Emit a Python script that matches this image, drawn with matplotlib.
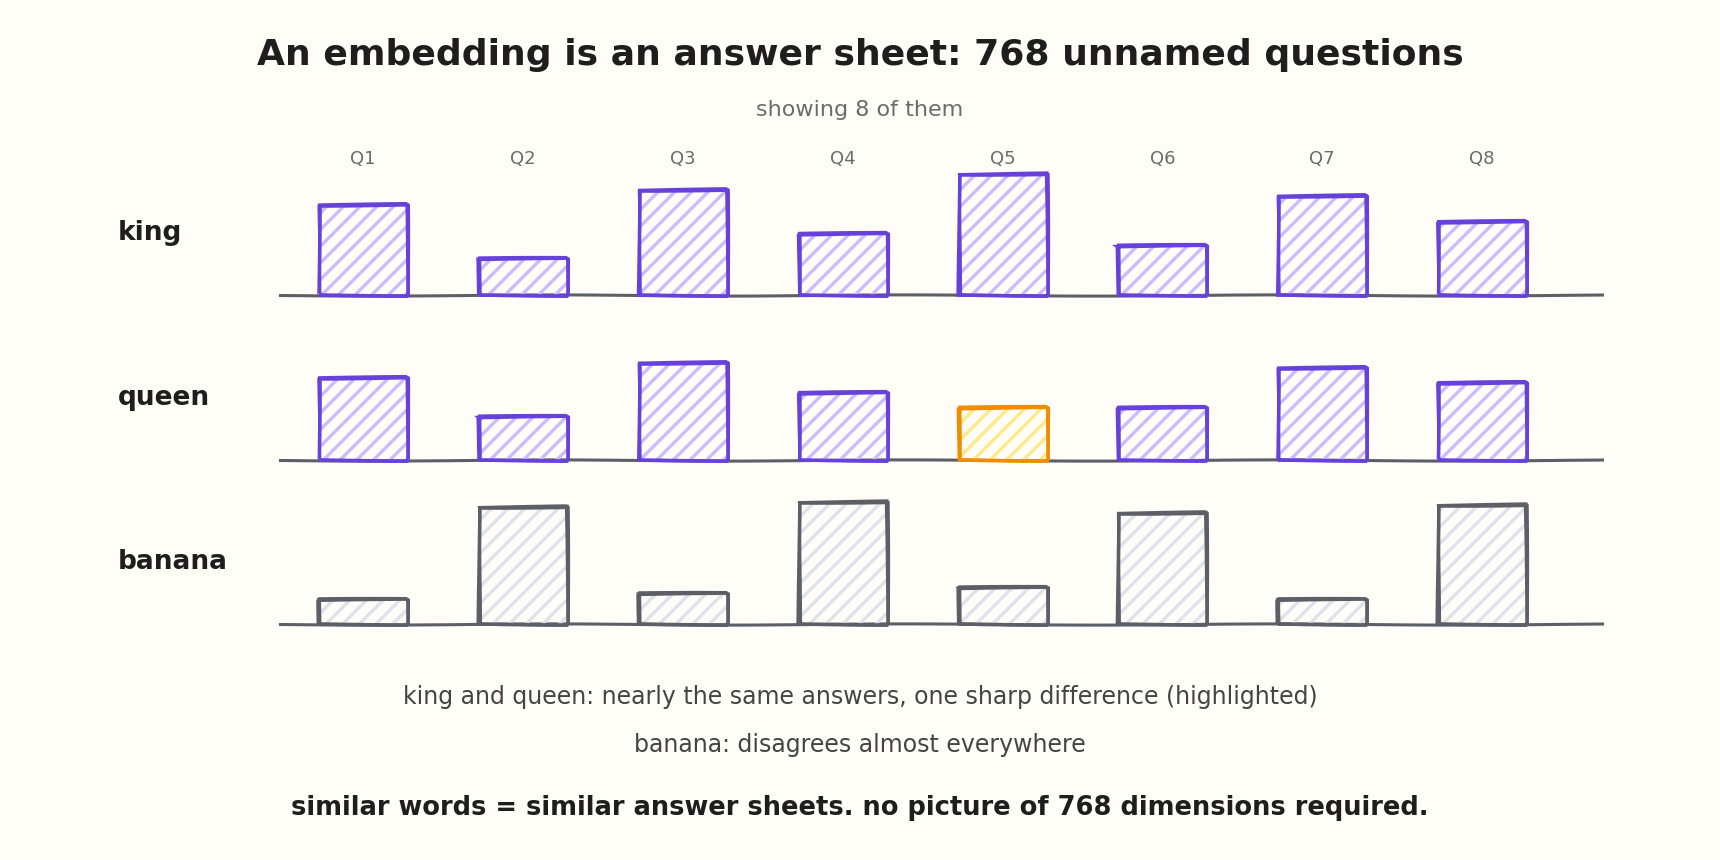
import matplotlib

matplotlib.use("Agg")
import matplotlib.pyplot as plt

plt.rcParams["font.family"] = ["DejaVu Sans"]
plt.rcParams["hatch.linewidth"] = 2.4

questions = ["Q1", "Q2", "Q3", "Q4", "Q5", "Q6", "Q7", "Q8"]
words = ["king", "queen", "banana"]
king = [0.72, 0.29, 0.84, 0.49, 0.97, 0.39, 0.79, 0.58]
queen = [0.66, 0.34, 0.78, 0.54, 0.42, 0.42, 0.74, 0.62]
banana = [0.19, 0.94, 0.24, 0.98, 0.29, 0.89, 0.19, 0.95]
highlight = ("queen", 4)  # the one sharp difference

title = "An embedding is an answer sheet: 768 unnamed questions"
subtitle = "showing 8 of them"
note1 = "king and queen: nearly the same answers, one sharp difference (highlighted)"
note2 = "banana: disagrees almost everywhere"
footer = "similar words = similar answer sheets. no picture of 768 dimensions required."

BG = "#fffdf7"
PURPLE, PURPLE_FILL = "#6741d9", "#cdbbff"
ORANGE, ORANGE_FILL = "#f08c00", "#ffe98a"
GRAY, GRAY_FILL = "#5c5f66", "#dde3ea"
AXIS = "#5c5f66"

fig = plt.figure(figsize=(17.2, 8.6), dpi=100, facecolor=BG)

rows = {"king": king, "queen": queen, "banana": banana}
baselines = [1 - 295 / 860, 1 - 460 / 860, 1 - 624 / 860]
ax_h = 135 / 860
xs = list(range(len(questions)))

for r, (word, vals) in enumerate(rows.items()):
    ax = fig.add_axes([280 / 1720, baselines[r], 1322 / 1720, ax_h])
    ax.set_facecolor("none")
    ax.set_xlim(-0.52, 7.75)
    ax.set_ylim(0, 1.08)
    ax.axis("off")

    if word == "banana":
        edges = [GRAY] * len(vals)
        fills = [GRAY_FILL] * len(vals)
    else:
        edges = [PURPLE] * len(vals)
        fills = [PURPLE_FILL] * len(vals)
    if word == highlight[0]:
        edges[highlight[1]] = ORANGE
        fills[highlight[1]] = ORANGE_FILL

    base = ax.axhline(0, color=AXIS, lw=2.2, zorder=1, clip_on=False)
    base.set_sketch_params(scale=0.6, length=400, randomness=2)
    # hatched fill
    ax.bar(xs, vals, width=0.55, color="none", edgecolor=fills, hatch="//",
           linewidth=0, zorder=2)
    # rough double outline
    b1 = ax.bar(xs, vals, width=0.55, color="none", edgecolor=edges,
                linewidth=2.6, zorder=3, clip_on=False)
    b2 = ax.bar(xs, vals, width=0.55, color="none", edgecolor=edges,
                linewidth=1.6, zorder=3, clip_on=False)
    for p in b1:
        p.set_sketch_params(scale=1.0, length=400, randomness=2)
    for p in b2:
        p.set_sketch_params(scale=2.0, length=600, randomness=1.5)

    fig.text(118 / 1720, baselines[r] + 62 / 860, word, fontsize=19,
             fontweight="bold", color="#1e1e1e", ha="left", va="center")

    if r == 0:
        for i, q in enumerate(questions):
            ax.text(i, 136 / 125, q, ha="center", va="center", fontsize=13,
                    color="#6b6b6b", clip_on=False)

fig.text(0.5, 1 - 55 / 860, title, ha="center", va="center", fontsize=26,
         fontweight="bold", color="#1e1e1e")
fig.text(0.5, 1 - 110 / 860, subtitle, ha="center", va="center", fontsize=16,
         color="#6b6b6b")
fig.text(0.5, 1 - 697 / 860, note1, ha="center", va="center", fontsize=17,
         color="#444444")
fig.text(0.5, 1 - 745 / 860, note2, ha="center", va="center", fontsize=17,
         color="#444444")
fig.text(0.5, 1 - 808 / 860, footer, ha="center", va="center", fontsize=18.5,
         fontweight="bold", color="#1e1e1e")

fig.savefig("out.png", dpi=100, facecolor=BG)
